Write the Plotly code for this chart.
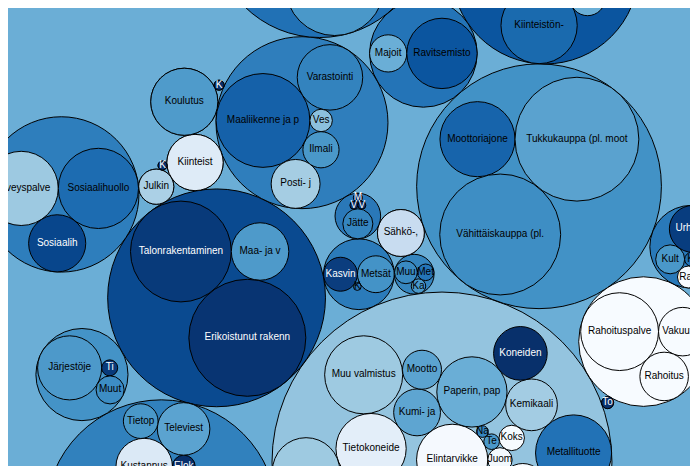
import math
import plotly.graph_objects as go

W, H = 698, 466

# ---------------- data: industries (TOL 2008) grouped by section; values read from circle areas ----------------
group_codes = ["A", "B", "C", "D", "E", "F", "G", "H", "I", "J", "K",
               "L", "M", "N", "O", "P", "Q", "R", "S", "T", "U", "X"]

A_labels = ["Kasvin", "Metsät", "K"]
A_values = [287.9, 339.4, 15.0]
B_labels = ["Muu", "Met", "Ka"]
B_values = [130.0, 68.8, 52.6]
C_labels = ["Elintarvikke", "Juom", "T", "Te", "Vaat", "Na", "Sahata", "Paperin, pap",
            "Painamin", "Koks", "Kemikaali", "Lääke", "Kumi- ja", "Muiden",
            "Metallien jalos", "Metallituotte", "Tietokoneide", "Sähkölaittei", "Mui",
            "Mootto", "Muiden kulkune", "Huonekaluje", "Muu valmistus", "Koneiden"]
C_values = [1268.1, 148.7, 20.1, 60.9, 128.1, 34.3, 288.2, 1233.6, 512.3, 160.9, 668.4, 243.7,
            548.3, 396.1, 1927.5, 1447.8, 1233.6, 1440.4, 78.8, 380.7, 1927.5, 1139.5, 1523.0, 719.8]
D_labels = ["Sähkö-,"]
D_values = [550.0]
E_labels = ["V", "V", "Jätte", "M"]
E_values = [16.0, 16.0, 225.5, 20.3]
F_labels = ["Talonrakentaminen", "Maa- ja v", "Erikoistunut rakenn"]
F_values = [2541.6, 825.8, 3420.0]
G_labels = ["Moottoriajone", "Tukkukauppa (pl. moot", "Vähittäiskauppa (pl."]
G_values = [1409.4, 3834.1, 3655.1]
H_labels = ["Maaliikenne ja p", "Ves", "Ilmali", "Varastointi", "Posti- j"]
H_values = [2200.6, 126.3, 326.9, 1071.9, 596.9]
I_labels = ["Majoit", "Ravitsemisto"]
I_values = [345.8, 1237.7]
J_labels = ["Kustannus", "Elok", "Radi", "Televiest", "Ohjelmistot, konsultoin", "Tietop"]
J_values = [797.5, 129.8, 129.8, 689.5, 4566.8, 300.7]
K_labels = ["Rahoituspalve", "Vakuutus", "Rahoitus"]
K_values = [1514.7, 588.6, 588.6]
L_labels = ["Kiinteist"]
L_values = [792.1]
M_labels = ["Lakiasiain ja la", "Pääkonttorie", "Arkkitehti- ja i", "Tieteel", "Mainos", "Muu", "E"]
M_values = [2263.3, 1394.1, 2418.7, 461.3, 274.3, 79.8, 4.9]
N_labels = ["Vuokraus-", "Työllist", "Matkat", "Turvall", "Kiinteistön-", "Hallinto-"]
N_values = [777.9, 659.6, 311.8, 452.4, 1453.4, 942.4]
O_labels = ["Julkin"]
O_values = [308.8]
P_labels = ["Koulutus"]
P_values = [1125.8]
Q_labels = ["Terveyspalve", "Sosiaalihuollo", "Sosiaalih"]
Q_values = [1376.0, 1608.2, 816.4]
R_labels = ["Kult", "Ki", "Rah", "Urheilut"]
R_values = [209.5, 48.8, 120.5, 550.2]
S_labels = ["Järjestöje", "Ti", "Muut"]
S_values = [1027.0, 64.2, 196.6]
T_labels = ["K"]
T_values = [20.3]
U_labels = ["K"]
U_values = [25.0]
X_labels = ["To"]
X_values = [36.1]

# ---------------- styles ----------------
root_color = "#6baed6"
group_colors = {"A": "#2b7bba", "B": "#3585bf", "C": "#94c4df", "D": "#c8dcf0", "E": "#2a78b8",
                "F": "#0a4a90", "G": "#4292c6", "H": "#2f7ebc", "I": "#2474b7", "J": "#3181bd",
                "K": "#f7fbff", "L": "#deebf7", "M": "#2171b5", "N": "#0b559f", "O": "#abd0e6",
                "P": "#4f9bcb", "Q": "#2e7ebc", "R": "#2979b9", "S": "#4493c7", "T": "#08306b",
                "U": "#08306b", "X": "#08306b"}
leaf_colors = {
    "A": ["#0b3d7e", "#4493c7", "#2a78b8"],
    "B": ["#3a8ac2", "#2474b7", "#4a98c9"],
    "C": ["#f5f9fe", "#f2f8fd", "#2f7ebc", "#4a98c9", "#9dc9e1", "#3787c0", "#e3eef9", "#6aaed6",
          "#f7fbff", "#f7fbff", "#a3cce3", "#c6dbef", "#5ea5d1", "#6aaed6", "#4292c6", "#2272b6",
          "#e3eef9", "#4a98c9", "#3787c0", "#5ba3d0", "#1764ab", "#9ecae1", "#9ecae1", "#08306b"],
    "D": ["#c8dcf0"],
    "E": ["#08306b", "#08306b", "#3585bf", "#08306b"],
    "F": ["#083a7a", "#4e9aca", "#083472"],
    "G": ["#1764ab", "#5aa2cf", "#3e8ec4"],
    "H": ["#1561a9", "#8cc0dd", "#4a98c9", "#3383be", "#a5cde3"],
    "I": ["#6aaed6", "#0b559f"],
    "J": ["#dbe9f6", "#08306b", "#4292c6", "#5ba3d0", "#1d6cb1", "#4a98c9"],
    "K": ["#f7fbff", "#f7fbff", "#f7fbff"],
    "L": ["#deebf7"],
    "M": ["#3383be", "#1764ab", "#4a98c9", "#6aaed6", "#2171b5", "#9ecae1", "#08519c"],
    "N": ["#2171b5", "#3383be", "#6aaed6", "#4292c6", "#1a6aae", "#2f7ebc"],
    "O": ["#abd0e6"],
    "P": ["#4f9bcb"],
    "Q": ["#9dc9e1", "#1d6cb1", "#08468c"],
    "R": ["#4a98c9", "#2070b4", "#f7fbff", "#083d7f"],
    "S": ["#4d99ca", "#083a7a", "#3d8dc4"],
    "T": ["#08306b"], "U": ["#08306b"], "X": ["#08306b"],
}

# zoom state of the view (center in packed-layout units, 1 unit = 1 px)
VIEW_CENTER = (10.156, -11.050)

group_data = {g: (globals()[g + "_labels"], globals()[g + "_values"]) for g in group_codes}


# ---------------- d3-style circle packing (front-chain + minimal enclosing circle) ----------------
class _Node:
    __slots__ = ("c", "next", "prev")

    def __init__(self, c):
        self.c = c
        self.next = None
        self.prev = None


def _place(b, a, c):
    dx = b["x"] - a["x"]
    dy = b["y"] - a["y"]
    d2 = dx * dx + dy * dy
    if d2:
        a2 = (a["r"] + c["r"]) ** 2
        b2 = (b["r"] + c["r"]) ** 2
        if a2 > b2:
            x = (d2 + b2 - a2) / (2 * d2)
            y = math.sqrt(max(0.0, b2 / d2 - x * x))
            c["x"] = b["x"] - x * dx - y * dy
            c["y"] = b["y"] - x * dy + y * dx
        else:
            x = (d2 + a2 - b2) / (2 * d2)
            y = math.sqrt(max(0.0, a2 / d2 - x * x))
            c["x"] = a["x"] + x * dx - y * dy
            c["y"] = a["y"] + x * dy + y * dx
    else:
        c["x"] = a["x"] + c["r"]
        c["y"] = a["y"]


def _intersects(a, b):
    dr = a["r"] + b["r"] - 1e-6
    dx = b["x"] - a["x"]
    dy = b["y"] - a["y"]
    return dr > 0 and dr * dr > dx * dx + dy * dy


def _score(node):
    a = node.c
    b = node.next.c
    ab = a["r"] + b["r"]
    dx = (a["x"] * b["r"] + b["x"] * a["r"]) / ab
    dy = (a["y"] * b["r"] + b["y"] * a["r"]) / ab
    return dx * dx + dy * dy


def _encloses_not(a, b):
    dr = a["r"] - b["r"]
    dx = b["x"] - a["x"]
    dy = b["y"] - a["y"]
    return dr < 0 or dr * dr < dx * dx + dy * dy


def _encloses_weak(a, b):
    dr = a["r"] - b["r"] + max(a["r"], b["r"], 1) * 1e-9
    dx = b["x"] - a["x"]
    dy = b["y"] - a["y"]
    return dr > 0 and dr * dr > dx * dx + dy * dy


def _encloses_weak_all(a, B):
    return all(_encloses_weak(a, p) for p in B)


def _basis2(a, b):
    x1, y1, r1 = a["x"], a["y"], a["r"]
    x2, y2, r2 = b["x"], b["y"], b["r"]
    x21, y21, r21 = x2 - x1, y2 - y1, r2 - r1
    l = math.sqrt(x21 * x21 + y21 * y21)
    return {"x": (x1 + x2 + x21 / l * r21) / 2, "y": (y1 + y2 + y21 / l * r21) / 2,
            "r": (l + r1 + r2) / 2}


def _basis3(a, b, c):
    x1, y1, r1 = a["x"], a["y"], a["r"]
    x2, y2, r2 = b["x"], b["y"], b["r"]
    x3, y3, r3 = c["x"], c["y"], c["r"]
    a2, a3 = x1 - x2, x1 - x3
    b2, b3 = y1 - y2, y1 - y3
    c2, c3 = r2 - r1, r3 - r1
    d1 = x1 * x1 + y1 * y1 - r1 * r1
    d2 = d1 - x2 * x2 - y2 * y2 + r2 * r2
    d3 = d1 - x3 * x3 - y3 * y3 + r3 * r3
    ab = a3 * b2 - a2 * b3
    xa = (b2 * d3 - b3 * d2) / (ab * 2) - x1
    xb = (b3 * c2 - b2 * c3) / ab
    ya = (a3 * d2 - a2 * d3) / (ab * 2) - y1
    yb = (a2 * c3 - a3 * c2) / ab
    A = xb * xb + yb * yb - 1
    Bq = 2 * (r1 + xa * xb + ya * yb)
    C = xa * xa + ya * ya - r1 * r1
    if abs(A) > 1e-6:
        r = -((Bq + math.sqrt(max(0.0, Bq * Bq - 4 * A * C))) / (2 * A))
    else:
        r = -(C / Bq)
    return {"x": x1 + xa + xb * r, "y": y1 + ya + yb * r, "r": r}


def _basis(B):
    if len(B) == 1:
        return {"x": B[0]["x"], "y": B[0]["y"], "r": B[0]["r"]}
    if len(B) == 2:
        return _basis2(B[0], B[1])
    return _basis3(B[0], B[1], B[2])


def _extend_basis(B, p):
    if _encloses_weak_all(p, B):
        return [p]
    for i in range(len(B)):
        if _encloses_not(p, B[i]) and _encloses_weak_all(_basis2(B[i], p), B):
            return [B[i], p]
    for i in range(len(B) - 1):
        for j in range(i + 1, len(B)):
            if (_encloses_not(_basis2(B[i], B[j]), p)
                    and _encloses_not(_basis2(B[i], p), B[j])
                    and _encloses_not(_basis2(B[j], p), B[i])
                    and _encloses_weak_all(_basis3(B[i], B[j], p), B)):
                return [B[i], B[j], p]
    raise ValueError("enclose failed")


def _enclose(circles):
    i, n, B, e = 0, len(circles), [], None
    while i < n:
        p = circles[i]
        if e is not None and _encloses_weak(e, p):
            i += 1
        else:
            B = _extend_basis(B, p)
            e = _basis(B)
            i = 0
    return e


def pack_siblings(circles):
    n = len(circles)
    a = circles[0]
    a["x"], a["y"] = 0.0, 0.0
    if n == 1:
        return a["r"]
    b = circles[1]
    a["x"] = -b["r"]
    b["x"], b["y"] = a["r"], 0.0
    if n == 2:
        return a["r"] + b["r"]
    c = circles[2]
    _place(b, a, c)
    a, b, c = _Node(a), _Node(b), _Node(c)
    a.next = c.prev = b
    b.next = a.prev = c
    c.next = b.prev = a
    i = 3
    while i < n:
        cc = circles[i]
        _place(a.c, b.c, cc)
        c = _Node(cc)
        j, k = b.next, a.prev
        sj, sk = b.c["r"], a.c["r"]
        restart = False
        while True:
            if sj <= sk:
                if _intersects(j.c, c.c):
                    b = j
                    a.next = b
                    b.prev = a
                    restart = True
                    break
                sj += j.c["r"]
                j = j.next
            else:
                if _intersects(k.c, c.c):
                    a = k
                    a.next = b
                    b.prev = a
                    restart = True
                    break
                sk += k.c["r"]
                k = k.prev
            if j is k.next:
                break
        if restart:
            continue
        c.prev = a
        c.next = b
        a.next = c
        b.prev = c
        b = c
        aa = _score(a)
        c = c.next
        while c is not b:
            ca = _score(c)
            if ca < aa:
                a, aa = c, ca
            c = c.next
        b = a.next
        i += 1
    chain = [b.c]
    c = b.next
    while c is not b:
        chain.append(c.c)
        c = c.next
    e = _enclose(chain)
    for cc in circles:
        cc["x"] -= e["x"]
        cc["y"] -= e["y"]
    return e["r"]


# ---------------- build hierarchy & layout ----------------
root = {"name": "root", "color": root_color, "children": []}
for g in group_codes:
    labels, values = group_data[g]
    node = {"name": g, "color": group_colors[g], "children": []}
    for lab, val, col in zip(labels, values, leaf_colors[g]):
        node["children"].append({"name": lab, "color": col, "r": math.sqrt(val), "x": 0.0, "y": 0.0,
                                 "leaf": True})
    root["children"].append(node)


def pack_node(node):
    kids = node.get("children")
    if kids:
        for k in kids:
            pack_node(k)
        node["r"] = pack_siblings(kids)


pack_node(root)
root["x"], root["y"] = 0.0, 0.0


def absolute(node):
    for k in node.get("children", []):
        k["x"] += node["x"]
        k["y"] += node["y"]
        absolute(k)


absolute(root)
vx, vy = VIEW_CENTER


def to_px(n):
    return n["x"] - vx + W / 2, n["y"] - vy + H / 2


def text_color(hexcol):
    r = int(hexcol[1:3], 16)
    g = int(hexcol[3:5], 16)
    b = int(hexcol[5:7], 16)
    br = (0.299 * r + 0.587 * g + 0.114 * b) / 255
    return "white" if br < 0.26 else "black"


shapes = []
tx, ty, tt, tc = [], [], [], []


def draw(node):
    px, py = to_px(node)
    r = node["r"]
    shapes.append(dict(type="circle", xref="x", yref="y", x0=px - r, x1=px + r,
                       y0=py - r, y1=py + r, fillcolor=node["color"],
                       line=dict(color="#000000", width=1), layer="below"))
    if node.get("leaf"):
        tx.append(px)
        ty.append(py)
        tt.append(node["name"])
        tc.append(text_color(node["color"]))
    for k in node.get("children", []):
        draw(k)


draw(root)

fig = go.Figure()
fig.add_trace(go.Scatter(x=tx, y=ty, text=tt, mode="text", textposition="middle center",
                         textfont=dict(color=tc, size=10,
                                       family="Liberation Sans, Arial, Helvetica, sans-serif"),
                         hoverinfo="skip", cliponaxis=True, showlegend=False))
fig.update_layout(width=W, height=H, margin=dict(l=0, r=0, t=0, b=0),
                  paper_bgcolor=root_color, plot_bgcolor=root_color, shapes=shapes,
                  xaxis=dict(range=[0, W], visible=False, fixedrange=True),
                  yaxis=dict(range=[H, 0], visible=False, fixedrange=True),
                  showlegend=False)
fig.write_html("out.html", config={"displayModeBar": False})
